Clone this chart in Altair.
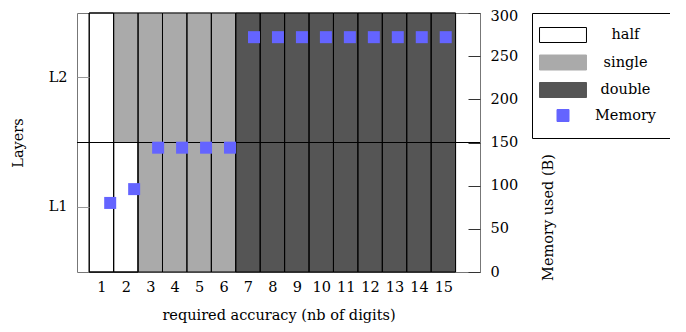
import altair as alt
import pandas as pd

# ---- data ----
digits = list(range(1, 16))
layer_names = ["L1", "L2"]
precision_L1 = ["half", "half", "single", "single", "single", "single"] + ["double"] * 9
precision_L2 = ["half"] + ["single"] * 5 + ["double"] * 9
memory = [80, 96, 144, 144, 144, 144] + [272] * 9
memory_ticks = [0, 50, 100, 150, 200, 250, 300]
legend_names = ["half", "single", "double", "Memory"]
fill_colors = ["#ffffff", "#aaaaaa", "#555555", "#6464ff"]
stroke_colors = ["#000000", "#aaaaaa", "#555555", "#6464ff"]
layer_boundary = [150]

cells = pd.DataFrame({
    "digit": digits * 2,
    "layer": ["L1"] * len(digits) + ["L2"] * len(digits),
    "precision": precision_L1 + precision_L2,
})
mem = pd.DataFrame({"digit": digits, "memory": memory, "series": ["Memory"] * len(digits)})
bound = pd.DataFrame({"b": layer_boundary})

FONT = "DejaVu Serif"
FS = 14.5
WIDE = "M-3.13,-1H3.13V1H-3.13Z"
SQ = "M-0.8,-0.8H0.8V0.8H-0.8Z"
shape_range = [WIDE, WIDE, WIDE, SQ]

x_cells = alt.Scale(domain=[0, 16.5], nice=False, zero=False)
y_band = alt.Scale(domain=["L2", "L1"], paddingInner=0, paddingOuter=0)
y_mem = alt.Scale(domain=[0, 300], nice=False, zero=False)
x_pts = alt.Scale(domain=[-0.385, 16.43], nice=False, zero=False)

leg = dict(orient="none", legendX=455, legendY=0, title=None,
           labelExpr="datum.label + '\u00a0'")

base_cells = alt.Chart(cells).transform_calculate(
    lo="datum.digit - 0.5", hi="datum.digit + 0.5"
)

fill_layer = base_cells.mark_rect(strokeWidth=1).encode(
    x=alt.X("lo:Q", scale=x_cells,
            axis=alt.Axis(values=digits, format="d", ticks=False, tickSize=0, domain=False,
                          grid=False, labelPadding=8,
                          title="required accuracy (nb of digits)",
                          titleY=47, titleBaseline="alphabetic")),
    x2="hi:Q",
    y=alt.Y("layer:N", scale=y_band,
            axis=alt.Axis(orient="left", title="Layers", offset=-12, tickSize=12,
                          domain=False, tickColor="#999999", labelPadding=10, grid=False,
                          titleX=-70.7, titleY=129.5, titleAngle=270,
                          titleBaseline="middle", titleAlign="center", labelAngle=0)),
    fill=alt.Fill("precision:N", scale=alt.Scale(domain=legend_names, range=fill_colors),
                  legend=alt.Legend(**leg)),
    stroke=alt.Stroke("precision:N", scale=alt.Scale(domain=legend_names, range=stroke_colors),
                      legend=alt.Legend(**leg)),
)

border_layer = base_cells.mark_rect(fillOpacity=0, stroke="black", strokeWidth=1).encode(
    x=alt.X("lo:Q", scale=x_cells, axis=None),
    x2="hi:Q",
    y=alt.Y("layer:N", scale=y_band, axis=None),
)

rule_layer = alt.Chart(bound).mark_rule(color="black", strokeWidth=1).encode(
    y=alt.Y("b:Q", scale=y_mem, axis=None)
)

points = alt.Chart(mem).mark_point(filled=True, size=225, color="#6464ff", opacity=1).encode(
    x=alt.X("digit:Q", scale=x_pts, axis=None),
    y=alt.Y("memory:Q", scale=y_mem,
            axis=alt.Axis(orient="right", values=memory_ticks, offset=-12, tickSize=12,
                          domain=False, tickColor="#333333", labelPadding=10, grid=False,
                          labelOffset={"condition": {"test": "datum.value == 300", "value": 3},
                                       "value": 0},
                          title="Memory used (B)", titleAngle=270, titleX=80, titleY=204,
                          titleBaseline="middle", titleAlign="center")),
    shape=alt.Shape("series:N", scale=alt.Scale(domain=legend_names, range=shape_range),
                    legend=alt.Legend(**leg)),
)

chart = (
    alt.layer(fill_layer, border_layer, rule_layer, points)
    .resolve_scale(x="independent", y="independent")
    .properties(
        width=403, height=259,
        padding={"left": 69, "top": 5, "right": 190, "bottom": 52},
        autosize=alt.AutoSizeParams(type="none"),
    )
    .configure_view(stroke="#777777", strokeWidth=1)
    .configure_axis(labelFont=FONT, titleFont=FONT, labelFontSize=FS, titleFontSize=FS,
                    labelColor="black", titleColor="black", titleFontWeight="normal")
    .configure_legend(labelFont=FONT, labelFontSize=FS, labelColor="black",
                      symbolSize=225, symbolStrokeWidth=1, symbolOffset=9, labelOffset=54.5,
                      labelAlign="center", rowPadding=7.5, padding=14,
                      strokeColor="black", labelLimit=300)
)

chart.save("out.html", embed_options={"renderer": "svg", "actions": False})
